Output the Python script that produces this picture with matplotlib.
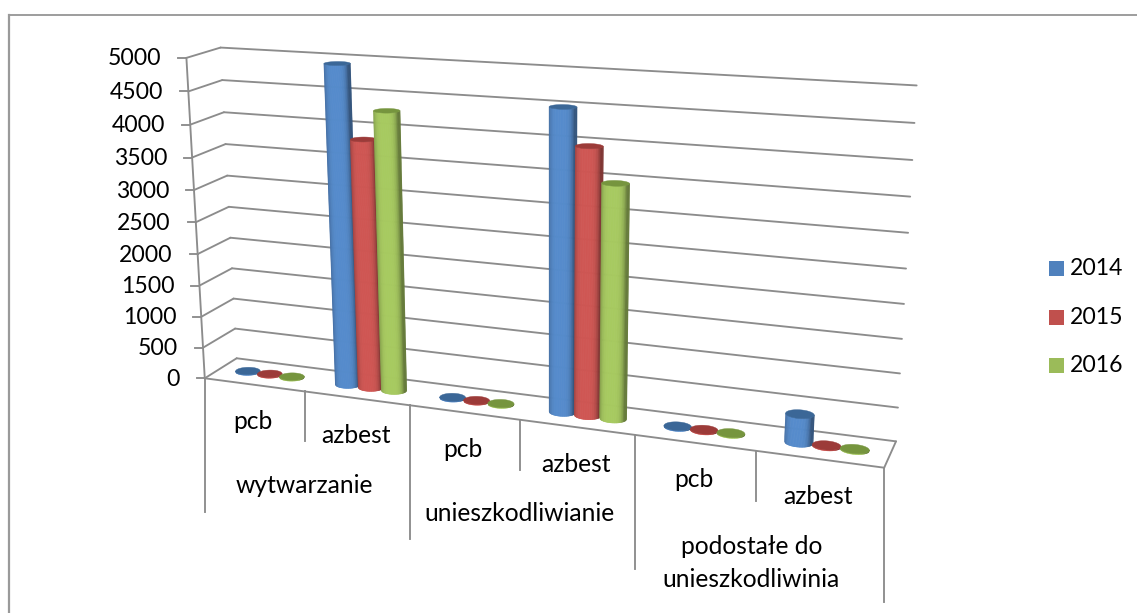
import numpy as np
import matplotlib
matplotlib.use('Agg')
import matplotlib.pyplot as plt
from matplotlib.collections import PolyCollection

plt.rcParams['font.family'] = ['Lato', 'DejaVu Sans']

groups = ['wytwarzanie', 'unieszkodliwianie', 'podostałe do\nunieszkodliwinia']
kinds = ['pcb', 'azbest', 'pcb', 'azbest', 'pcb', 'azbest']
years = ['2014', '2015', '2016']
v2014 = [10, 4950, 10, 4520, 10, 420]
v2015 = [10, 3850, 10, 3990, 10, 10]
v2016 = [10, 4300, 10, 3490, 10, 10]
yticks = [0, 500, 1000, 1500, 2000, 2500, 3000, 3500, 4000, 4500, 5000]

W, H = 1137, 613
GREY = '#8c8c8c'
colors = ['#4f81bd', '#c0504d', '#9bbb59']
dark = ['#3b6797', '#9c3b39', '#76953e']
fs = 16.6
fs_lab = 17.7


# camera fitted on the chart box: (category, depth, value) -> pixel
box = [(0, 0, 0, 205, 377.7), (0, 1, 0, 236.7, 359), (6, 1, 0, 896, 440.7),
       (6, 0, 0, 884, 466), (0, 0, 5000, 186.7, 57.3), (0, 1, 5000, 220, 49),
       (6, 1, 5000, 916.7, 85.3), (2, 0, 0, 409.3, 405), (4, 0, 0, 635, 438),
       (6, 1, 2500, 906.3, 269), (0, 1, 2500, 229, 205)]
A = []
for c, d, v, px, py in box:
    p = [c, d, v / 5000, 1]
    A.append(p + [0, 0, 0, 0] + [-px * q for q in p])
    A.append([0, 0, 0, 0] + p + [-py * q for q in p])
cam = np.linalg.svd(np.array(A))[2][-1].reshape(3, 4)


def proj(c, d, v):
    c, d, v = np.broadcast_arrays(c, d, v)
    q = cam @ np.array([c, d, v / 5000, np.ones(c.shape)], dtype=float)
    return q[0] / q[2], q[1] / q[2]


def line(ax, p0, p1, z=1):
    x0, y0 = proj(*p0)
    x1, y1 = proj(*p1)
    ax.plot([x0, x1], [y0, y1], color=GREY, lw=1.35, zorder=z, solid_capstyle='round')


def shade(color, k):
    rgb = np.array(matplotlib.colors.to_rgb(color))
    return tuple(np.clip(rgb * k, 0, 1))


def front_arc(cx, v, n=40):
    # lower edge of the ellipse, sampled evenly in screen x
    rc, rd, dc = 0.113, 0.17, 0.5
    t = np.linspace(np.pi - 0.6, 2 * np.pi + 0.6, 300)
    x, y = proj(cx + rc * np.cos(t), dc + rd * np.sin(t), v)
    a, b = np.argmin(x), np.argmax(x)
    xs = np.linspace(x[a], x[b], n)
    return xs, np.interp(xs, x[a:b + 1], y[a:b + 1])


def cylinder(ax, cx, v, i, z):
    x0, y0 = front_arc(cx, 0)
    x1, y1 = front_arc(cx, v)
    polys, faces = [], []
    for j in range(len(x0) - 1):
        polys.append([(x0[j], y0[j]), (x0[j + 1], y0[j + 1]), (x1[j + 1], y1[j + 1]), (x1[j], y1[j])])
        s = j / (len(x0) - 2)
        k = 1.08 - 0.4 * abs(2 * s - 0.85) ** 4
        faces.append(shade(colors[i], max(k, 0.66)))
    ax.add_collection(PolyCollection(polys, facecolors=faces, edgecolors=faces, linewidths=0.4, zorder=z))
    a = np.linspace(0, 2 * np.pi, 60)
    tx, ty = proj(cx + 0.113 * np.cos(a), 0.5 + 0.17 * np.sin(a), v)
    ax.fill(tx, ty, color=dark[i], lw=0.3, zorder=z + 0.1)


fig = plt.figure(figsize=(W / 100, H / 100), dpi=100)
ax = fig.add_axes([0, 0, 1, 1])
ax.set_xlim(0, W)
ax.set_ylim(H, 0)
ax.axis('off')

# outer frame, only top and left survive in the crop
ax.plot([8.5, 1137], [14.5, 14.5], color=GREY, lw=1.2, zorder=0, clip_on=False)
ax.plot([8.5, 8.5], [14.5, 613], color='#9a9a9a', lw=1.6, zorder=0, clip_on=False)

# walls
for v in yticks:
    line(ax, (0, 0, v), (0, 1, v))
    line(ax, (0, 1, v), (6, 1, v))
    x, y = proj(0, 0, v)
    ax.plot([x - 8, x], [y, y], color=GREY, lw=1.35, zorder=1)
    ax.text(x - 25, y + 1, str(v), ha='right', va='center', fontsize=fs, color='black')
line(ax, (0, 0, 0), (0, 0, 5000))
line(ax, (0, 0, 0), (6, 0, 0))
line(ax, (6, 0, 0), (6, 1, 0))

# cylinders, blue first so the later years sit on top
z = 3
for n in range(6):
    for i, vals in enumerate([v2014, v2015, v2016]):
        cylinder(ax, n + 0.5 + (i - 1) * 0.223, vals[n], i, z)
        z += 1

# category ticks under the floor
for n in range(7):
    x, y = proj(n, 0, 0)
    drop = 134 if n % 2 == 0 else 50
    ax.plot([x, x], [y, y + drop], color=GREY, lw=1.35, zorder=1)

for n, lab in enumerate(kinds):
    x, y = proj(n + 0.5, 0, 0)
    ax.text(x - 1, y + 37, lab, ha='center', va='center', fontsize=fs_lab, color='black')
group_dx = [0, 0, -5]
group_dy = [94, 94, 112]
for n, lab in enumerate(groups):
    x, y = proj(2 * n + 1, 0, 0)
    ax.text(x + group_dx[n], y + group_dy[n], lab, ha='center', va='center',
            fontsize=fs_lab, color='black', linespacing=1.5)

# legend
for i, yr in enumerate(years):
    yy = 268.5 + 48.5 * i
    ax.fill([1049, 1064, 1064, 1049], [yy - 7.5, yy - 7.5, yy + 7.5, yy + 7.5], color=colors[i], lw=0)
    ax.text(1070, yy, yr, ha='left', va='center', fontsize=fs, color='black')

fig.savefig('out.png', dpi=100, facecolor='white')
